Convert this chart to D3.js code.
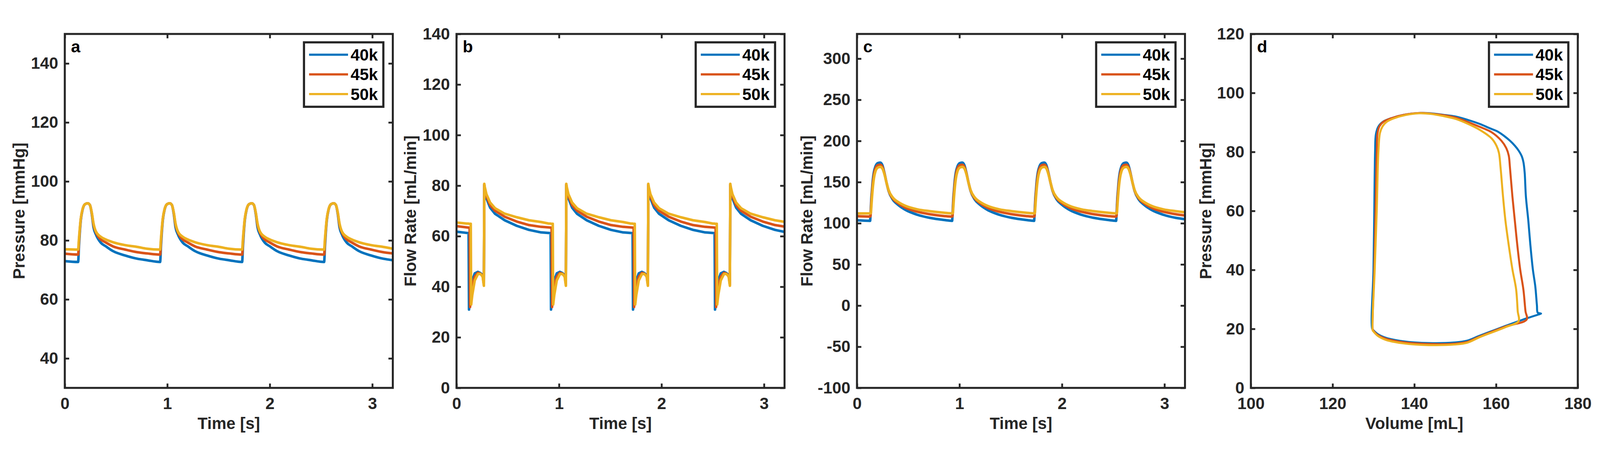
<!DOCTYPE html>
<html>
<head>
<meta charset="utf-8">
<script src="https://cdn.jsdelivr.net/npm/d3@7"></script>
<style>
  html, body { margin: 0; padding: 0; width: 100%; height: 100%; background: #fff; overflow: hidden; }
  svg { display: block; width: 100vw; height: 100vh; }
  svg text { font-family: "Liberation Sans", Arial, sans-serif; font-weight: bold; }
</style>
</head>
<body>
<svg viewBox="0 0 4395 1185" preserveAspectRatio="xMidYMid meet"></svg>
<script>
// legend entries and MATLAB default line colours
var seriesNames = ['40k', '45k', '50k'];
var colors = ['#0072BD', '#D95319', '#EDB120'];

// ---- panel a: pressure vs time ----
var timeA = [0,
  0.130, 0.138, 0.156, 0.174, 0.198, 0.224, 0.245, 0.263, 0.280, 0.304, 0.352, 0.400, 0.469, 0.588, 0.707, 0.800,
  0.930, 0.938, 0.956, 0.974, 0.998, 1.024, 1.045, 1.063, 1.080, 1.104, 1.152, 1.200, 1.269, 1.388, 1.507, 1.600,
  1.730, 1.738, 1.756, 1.774, 1.798, 1.824, 1.845, 1.863, 1.880, 1.904, 1.952, 2.000, 2.069, 2.188, 2.307, 2.400,
  2.530, 2.538, 2.556, 2.574, 2.598, 2.624, 2.645, 2.663, 2.680, 2.704, 2.752, 2.800, 2.869, 2.988, 3.107, 3.200];
var pressure40k = [73.0,
  72.7, 78.0, 86.8, 90.5, 92.3, 92.6, 92.0, 89.0, 84.5, 82.0, 79.2, 78.0, 76.4, 74.9, 73.8, 73.3,
  72.7, 78.0, 86.8, 90.5, 92.3, 92.6, 92.0, 89.0, 84.5, 82.0, 79.2, 78.0, 76.4, 74.9, 73.8, 73.3,
  72.7, 78.0, 86.8, 90.5, 92.3, 92.6, 92.0, 89.0, 84.5, 82.0, 79.2, 78.0, 76.4, 74.9, 73.8, 73.3,
  72.7, 78.0, 86.8, 90.5, 92.3, 92.6, 92.0, 89.0, 84.5, 82.0, 79.2, 78.0, 76.4, 74.9, 73.8, 73.3];
var pressure45k = [75.5,
  75.2, 79.5, 87.2, 90.6, 92.3, 92.6, 92.0, 89.3, 85.3, 82.7, 80.3, 79.3, 78.0, 76.9, 76.0, 75.6,
  75.2, 79.5, 87.2, 90.6, 92.3, 92.6, 92.0, 89.3, 85.3, 82.7, 80.3, 79.3, 78.0, 76.9, 76.0, 75.6,
  75.2, 79.5, 87.2, 90.6, 92.3, 92.6, 92.0, 89.3, 85.3, 82.7, 80.3, 79.3, 78.0, 76.9, 76.0, 75.6,
  75.2, 79.5, 87.2, 90.6, 92.3, 92.6, 92.0, 89.3, 85.3, 82.7, 80.3, 79.3, 78.0, 76.9, 76.0, 75.6];
var pressure50k = [77.0,
  76.9, 80.5, 87.4, 90.7, 92.3, 92.6, 92.0, 89.5, 85.8, 83.0, 81.2, 80.3, 79.4, 78.4, 77.8, 77.2,
  76.9, 80.5, 87.4, 90.7, 92.3, 92.6, 92.0, 89.5, 85.8, 83.0, 81.2, 80.3, 79.4, 78.4, 77.8, 77.2,
  76.9, 80.5, 87.4, 90.7, 92.3, 92.6, 92.0, 89.5, 85.8, 83.0, 81.2, 80.3, 79.4, 78.4, 77.8, 77.2,
  76.9, 80.5, 87.4, 90.7, 92.3, 92.6, 92.0, 89.5, 85.8, 83.0, 81.2, 80.3, 79.4, 78.4, 77.8, 77.2];

// ---- panel b: flow rate vs time ----
var timeB = [0,
  0.100, 0.118, 0.122, 0.128, 0.132, 0.139, 0.143, 0.154, 0.178, 0.209, 0.233, 0.255, 0.263, 0.267, 0.271, 0.275, 0.292, 0.328, 0.375, 0.470, 0.588, 0.707, 0.825,
  0.900, 0.918, 0.922, 0.928, 0.932, 0.939, 0.943, 0.954, 0.978, 1.009, 1.033, 1.055, 1.063, 1.067, 1.071, 1.075, 1.092, 1.128, 1.175, 1.270, 1.388, 1.507, 1.625,
  1.700, 1.718, 1.722, 1.728, 1.732, 1.739, 1.743, 1.754, 1.778, 1.809, 1.833, 1.855, 1.863, 1.867, 1.871, 1.875, 1.892, 1.928, 1.975, 2.070, 2.188, 2.307, 2.425,
  2.500, 2.518, 2.522, 2.528, 2.532, 2.539, 2.543, 2.554, 2.578, 2.609, 2.633, 2.655, 2.663, 2.667, 2.671, 2.675, 2.692, 2.728, 2.775, 2.870, 2.988, 3.107, 3.200];
var flowB40k = [61.8,
  61.3, 61.2, 31.0, 34.0, 35.8, 38.5, 39.8, 42.5, 45.3, 45.9, 45.4, 44.6, 42.5, 41.2, 80.3, 78.5, 75.0, 71.3, 68.9, 66.3, 64.1, 62.5, 61.5,
  61.3, 61.2, 31.0, 34.0, 35.8, 38.5, 39.8, 42.5, 45.3, 45.9, 45.4, 44.6, 42.5, 41.2, 80.3, 78.5, 75.0, 71.3, 68.9, 66.3, 64.1, 62.5, 61.5,
  61.3, 61.2, 31.0, 34.0, 35.8, 38.5, 39.8, 42.5, 45.3, 45.9, 45.4, 44.6, 42.5, 41.2, 80.3, 78.5, 75.0, 71.3, 68.9, 66.3, 64.1, 62.5, 61.5,
  61.3, 61.2, 31.0, 34.0, 35.8, 38.5, 39.8, 42.5, 45.3, 45.9, 45.4, 44.6, 42.5, 41.2, 80.3, 78.5, 75.0, 71.3, 68.9, 66.3, 64.1, 62.5, 61.7];
var flowB45k = [64.0,
  63.5, 63.4, 63.4, 63.4, 32.0, 35.5, 37.3, 40.3, 44.0, 45.5, 45.2, 44.3, 42.0, 40.8, 80.5, 79.0, 75.8, 72.3, 70.1, 67.7, 65.8, 64.4, 63.7,
  63.5, 63.4, 63.4, 63.4, 32.0, 35.5, 37.3, 40.3, 44.0, 45.5, 45.2, 44.3, 42.0, 40.8, 80.5, 79.0, 75.8, 72.3, 70.1, 67.7, 65.8, 64.4, 63.7,
  63.5, 63.4, 63.4, 63.4, 32.0, 35.5, 37.3, 40.3, 44.0, 45.5, 45.2, 44.3, 42.0, 40.8, 80.5, 79.0, 75.8, 72.3, 70.1, 67.7, 65.8, 64.4, 63.7,
  63.5, 63.4, 63.4, 63.4, 32.0, 35.5, 37.3, 40.3, 44.0, 45.5, 45.2, 44.3, 42.0, 40.8, 80.5, 79.0, 75.8, 72.3, 70.1, 67.7, 65.8, 64.4, 63.8];
var flowB50k = [65.4,
  65.0, 65.0, 64.9, 64.9, 64.9, 64.9, 33.0, 36.8, 42.5, 45.0, 45.1, 44.0, 41.5, 40.4, 80.7, 79.6, 76.6, 73.3, 71.1, 68.9, 67.5, 66.3, 65.6,
  65.0, 65.0, 64.9, 64.9, 64.9, 64.9, 33.0, 36.8, 42.5, 45.0, 45.1, 44.0, 41.5, 40.4, 80.7, 79.6, 76.6, 73.3, 71.1, 68.9, 67.5, 66.3, 65.6,
  65.0, 65.0, 64.9, 64.9, 64.9, 64.9, 33.0, 36.8, 42.5, 45.0, 45.1, 44.0, 41.5, 40.4, 80.7, 79.6, 76.6, 73.3, 71.1, 68.9, 67.5, 66.3, 65.6,
  65.0, 65.0, 64.9, 64.9, 64.9, 64.9, 33.0, 36.8, 42.5, 45.0, 45.1, 44.0, 41.5, 40.4, 80.7, 79.6, 76.6, 73.3, 71.1, 68.9, 67.5, 66.3, 65.7];

// ---- panel c: flow rate vs time ----
var timeC = [0,
  0.128, 0.132, 0.136, 0.140, 0.145, 0.155, 0.165, 0.180, 0.205, 0.228, 0.248, 0.268, 0.288, 0.308, 0.350, 0.400, 0.470, 0.590, 0.710, 0.850,
  0.928, 0.932, 0.936, 0.940, 0.945, 0.955, 0.965, 0.980, 1.005, 1.028, 1.048, 1.068, 1.088, 1.108, 1.150, 1.200, 1.270, 1.390, 1.510, 1.650,
  1.728, 1.732, 1.736, 1.740, 1.745, 1.755, 1.765, 1.780, 1.805, 1.828, 1.848, 1.868, 1.888, 1.908, 1.950, 2.000, 2.070, 2.190, 2.310, 2.450,
  2.528, 2.532, 2.536, 2.540, 2.545, 2.555, 2.565, 2.580, 2.605, 2.628, 2.648, 2.668, 2.688, 2.708, 2.750, 2.800, 2.870, 2.990, 3.110, 3.200];
var flowC40k = [103.6,
  103.0, 110, 120, 130, 138, 153, 162, 169, 173.2, 173.7, 170.5, 161, 149.5, 139.5, 128.7, 122.5, 116.5, 110.3, 106.6, 104.0,
  103.0, 110, 120, 130, 138, 153, 162, 169, 173.2, 173.7, 170.5, 161, 149.5, 139.5, 128.7, 122.5, 116.5, 110.3, 106.6, 104.0,
  103.0, 110, 120, 130, 138, 153, 162, 169, 173.2, 173.7, 170.5, 161, 149.5, 139.5, 128.7, 122.5, 116.5, 110.3, 106.6, 104.0,
  103.0, 110, 120, 130, 138, 153, 162, 169, 173.2, 173.7, 170.5, 161, 149.5, 139.5, 128.7, 122.5, 116.5, 110.3, 106.6, 105.0];
var flowC45k = [108.6,
  108.1, 109, 116, 126, 134.5, 149, 158.5, 166.5, 170.6, 171.0, 168.5, 160.5, 149.5, 140, 130, 124.5, 119.1, 114.0, 111.0, 108.8,
  108.1, 109, 116, 126, 134.5, 149, 158.5, 166.5, 170.6, 171.0, 168.5, 160.5, 149.5, 140, 130, 124.5, 119.1, 114.0, 111.0, 108.8,
  108.1, 109, 116, 126, 134.5, 149, 158.5, 166.5, 170.6, 171.0, 168.5, 160.5, 149.5, 140, 130, 124.5, 119.1, 114.0, 111.0, 108.8,
  108.1, 109, 116, 126, 134.5, 149, 158.5, 166.5, 170.6, 171.0, 168.5, 160.5, 149.5, 140, 130, 124.5, 119.1, 114.0, 111.0, 109.5];
var flowC50k = [112.0,
  112.0, 112.0, 113, 120, 129, 144, 154.5, 163, 167.8, 168.5, 166.5, 159.5, 149.5, 140.5, 131.2, 126.0, 121.3, 116.9, 114.7, 112.8,
  112.0, 112.0, 113, 120, 129, 144, 154.5, 163, 167.8, 168.5, 166.5, 159.5, 149.5, 140.5, 131.2, 126.0, 121.3, 116.9, 114.7, 112.8,
  112.0, 112.0, 113, 120, 129, 144, 154.5, 163, 167.8, 168.5, 166.5, 159.5, 149.5, 140.5, 131.2, 126.0, 121.3, 116.9, 114.7, 112.8,
  112.0, 112.0, 113, 120, 129, 144, 154.5, 163, 167.8, 168.5, 166.5, 159.5, 149.5, 140.5, 131.2, 126.0, 121.3, 116.9, 114.7, 113.4];

// ---- panel d: pressure-volume loops ----
var volume40k = [129.7, 130.0, 130.2, 130.4, 130.6, 131.2, 132.3, 134.5, 137.5, 141.2, 144.0, 147.0, 150.1, 153.0, 156.0, 158.5, 160.4, 162.0, 163.4, 164.6, 165.5, 166.3, 166.7, 167.0, 167.3, 167.9, 168.4, 169.0, 169.6, 170.0, 170.2, 171.0, 170.4, 167.3, 162.3, 156.0, 152.9, 149.8, 143.6, 137.3, 133.0, 131.1, 130.0];
var loopP40k = [20.0, 40, 60, 80, 86.0, 88.6, 90.2, 91.5, 92.6, 93.2, 93.1, 92.6, 92.0, 90.9, 89.5, 88.0, 86.9, 85.4, 83.8, 82.1, 80.5, 78.5, 76.5, 73.0, 64.9, 56.6, 48.4, 40.2, 34.4, 28.0, 25.5, 25.2, 24.9, 23.5, 21.0, 17.7, 16.0, 15.4, 15.2, 15.8, 17.0, 18.2, 19.5];
var volume45k = [129.8, 130.2, 130.5, 130.8, 131.0, 131.5, 132.5, 134.5, 137.5, 141.2, 144.0, 147.0, 150.0, 153.0, 156.0, 158.9, 161.3, 162.5, 163.1, 163.4, 164.0, 164.6, 165.2, 165.9, 166.7, 167.2, 167.5, 162.3, 156.0, 152.9, 149.8, 143.6, 137.3, 133.0, 131.0, 129.9];
var loopP45k = [20.0, 40, 60, 80, 86.5, 88.8, 90.3, 91.5, 92.6, 93.2, 93.0, 92.5, 91.7, 90.2, 88.5, 86.7, 83.8, 81.3, 78.8, 74.7, 64.9, 56.6, 48.4, 40.2, 33.2, 26.0, 23.2, 20.8, 17.4, 15.6, 15.0, 14.9, 15.5, 16.7, 18.0, 19.6];
var volume50k = [129.8, 130.3, 130.8, 131.2, 131.6, 132.2, 133.2, 135.0, 137.8, 141.2, 144.0, 147.0, 150.1, 153.0, 156.0, 158.9, 160.1, 160.7, 161.1, 161.7, 162.3, 163.1, 164.0, 164.9, 165.3, 165.5, 162.3, 156.0, 152.9, 149.8, 143.6, 137.3, 133.0, 131.0, 129.9];
var loopP50k = [19.5, 40, 60, 80, 86.5, 88.6, 90.2, 91.4, 92.5, 93.1, 92.9, 92.2, 91.2, 89.6, 87.5, 84.6, 82.1, 79.7, 74.7, 64.9, 56.6, 48.4, 40.2, 33.5, 26.0, 22.6, 20.6, 17.2, 15.3, 14.7, 14.5, 15.1, 16.3, 17.7, 19.3];

// tick values
var timeTicks = [0, 1, 2, 3];
var pressureTicksA = [40, 60, 80, 100, 120, 140];
var flowTicksB = [0, 20, 40, 60, 80, 100, 120, 140];
var flowTicksC = [-100, -50, 0, 50, 100, 150, 200, 250, 300];
var volumeTicks = [100, 120, 140, 160, 180];
var pressureTicksD = [0, 20, 40, 60, 80, 100, 120];

var svg = d3.select('svg');
var axTop = 50, axBottom = 1022;
var ink = '#262626';

function drawPanel(o) {
  var x = d3.scaleLinear().domain(o.xDomain).range([o.left, o.right]);
  var y = d3.scaleLinear().domain(o.yDomain).range([axBottom, axTop]);
  var g = svg.append('g');
  var fmt = function(d) { return String(d); };

  var line = d3.line()
    .x(function(d) { return x(d[0]); })
    .y(function(d) { return y(d[1]); })
    .curve(o.curve);

  o.series.forEach(function(s, i) {
    g.append('path')
      .datum(d3.zip(s[0], s[1]))
      .attr('d', line)
      .attr('fill', 'none')
      .attr('stroke', colors[i])
      .attr('stroke-width', o.lineWidth)
      .attr('stroke-linejoin', 'round');
  });

  // axes with inward ticks on all four sides
  var axes = [
    [d3.axisBottom(x).tickFormat(fmt).tickValues(o.xTicks).tickPadding(26), 'translate(0,' + axBottom + ')'],
    [d3.axisTop(x).tickFormat('').tickValues(o.xTicks), 'translate(0,' + axTop + ')'],
    [d3.axisLeft(y).tickFormat(fmt).tickValues(o.yTicks).tickPadding(18), 'translate(' + o.left + ',0)'],
    [d3.axisRight(y).tickFormat('').tickValues(o.yTicks), 'translate(' + o.right + ',0)']
  ];
  axes.forEach(function(a) {
    var ax = g.append('g').attr('transform', a[1]).call(a[0].tickSize(-12));
    ax.select('.domain').remove();
    ax.selectAll('line').attr('stroke', ink).attr('stroke-width', 5);
    ax.selectAll('text')
      .attr('fill', ink)
      .style('font-size', '45px');
  });

  g.append('rect')
    .attr('x', o.left).attr('y', axTop)
    .attr('width', o.right - o.left).attr('height', axBottom - axTop)
    .attr('fill', 'none').attr('stroke', ink).attr('stroke-width', 5.5);

  g.append('text')
    .attr('x', (o.left + o.right) / 2).attr('y', 1135)
    .attr('text-anchor', 'middle').attr('fill', ink)
    .style('font-size', '45px')
    .text(o.xLabel);

  g.append('text')
    .attr('transform', 'translate(' + (o.left - o.yLabelOffset) + ',' + (axTop + axBottom) / 2 + ') rotate(-90)')
    .attr('text-anchor', 'middle').attr('fill', ink)
    .style('font-size', '45px')
    .text(o.yLabel);

  g.append('text')
    .attr('x', o.left + 17).attr('y', axTop + 51)
    .attr('fill', '#000')
    .style('font-size', '46px')
    .text(o.letter);

  // legend
  var lx = o.right - 244, ly = axTop + 23;
  var lg = g.append('g').attr('transform', 'translate(' + lx + ',' + ly + ')');
  lg.append('rect')
    .attr('width', 218).attr('height', 177)
    .attr('fill', '#fff').attr('stroke', ink).attr('stroke-width', 6);
  seriesNames.forEach(function(name, i) {
    var ry = 34 + i * 54;
    lg.append('line')
      .attr('x1', 14).attr('x2', 121).attr('y1', ry).attr('y2', ry)
      .attr('stroke', colors[i]).attr('stroke-width', 6);
    lg.append('text')
      .attr('x', 128).attr('y', ry + 16)
      .attr('fill', '#000')
      .style('font-size', '45px')
      .text(name);
  });
}

drawPanel({
  letter: 'a', left: 178, right: 1079,
  xDomain: [0, 3.2], yDomain: [30, 150], xTicks: timeTicks, yTicks: pressureTicksA,
  xLabel: 'Time [s]', yLabel: 'Pressure [mmHg]', yLabelOffset: 110,
  curve: d3.curveMonotoneX, lineWidth: 7,
  series: [[timeA, pressure40k], [timeA, pressure45k], [timeA, pressure50k]]
});

drawPanel({
  letter: 'b', left: 1254, right: 2155,
  xDomain: [0, 3.2], yDomain: [0, 140], xTicks: timeTicks, yTicks: flowTicksB,
  xLabel: 'Time [s]', yLabel: 'Flow Rate [mL/min]', yLabelOffset: 111,
  curve: d3.curveLinear, lineWidth: 7,
  series: [[timeB, flowB40k], [timeB, flowB45k], [timeB, flowB50k]]
});

drawPanel({
  letter: 'c', left: 2354, right: 3255,
  xDomain: [0, 3.2], yDomain: [-100, 330], xTicks: timeTicks, yTicks: flowTicksC,
  xLabel: 'Time [s]', yLabel: 'Flow Rate [mL/min]', yLabelOffset: 122,
  curve: d3.curveMonotoneX, lineWidth: 7,
  series: [[timeC, flowC40k], [timeC, flowC45k], [timeC, flowC50k]]
});

drawPanel({
  letter: 'd', left: 3436, right: 4334,
  xDomain: [100, 180], yDomain: [0, 120], xTicks: volumeTicks, yTicks: pressureTicksD,
  xLabel: 'Volume [mL]', yLabel: 'Pressure [mmHg]', yLabelOffset: 109,
  curve: d3.curveCatmullRomClosed.alpha(0.5), lineWidth: 5.5,
  series: [[volume40k, loopP40k], [volume45k, loopP45k], [volume50k, loopP50k]]
});
</script>
</body>
</html>
